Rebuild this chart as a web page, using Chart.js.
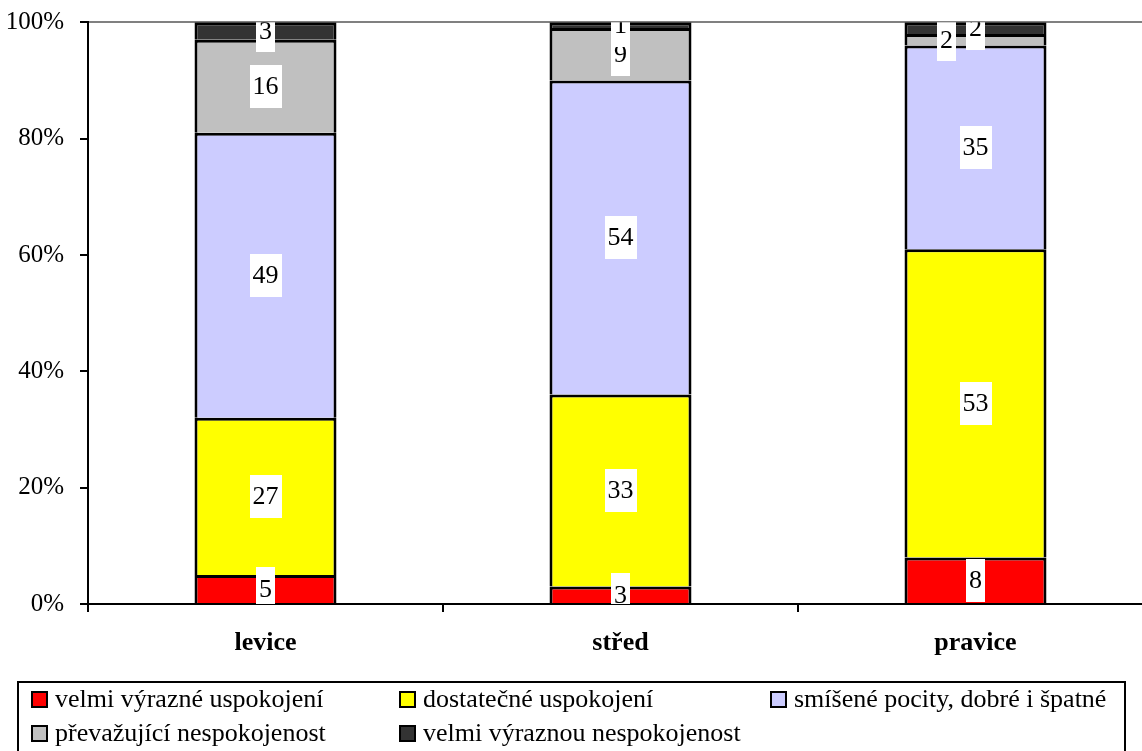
<!DOCTYPE html>
<html>
<head>
<meta charset="utf-8">
<script src="https://cdn.jsdelivr.net/npm/chart.js@4/dist/chart.umd.min.js"></script>
<style>
  html, body { margin: 0; padding: 0; overflow: hidden; background: #fff; }
  #wrap { width: 1153px; height: 751px; }
</style>
</head>
<body>
<div id="wrap"><canvas id="myChart"></canvas></div>
<script>
const categories = ['levice', 'střed', 'pravice'];
const seriesNames = ['velmi výrazné uspokojení', 'dostatečné uspokojení', 'smíšené pocity, dobré i špatné',
                     'převažující nespokojenost', 'velmi výraznou nespokojenost'];
const veryPleased = [5, 3, 8];
const pleased = [27, 33, 53];
const mixed = [49, 54, 35];
const displeased = [16, 9, 2];
const veryDispleased = [3, 1, 2];
const yTicks = [0, 20, 40, 60, 80, 100];

const colors = ['#FF0000', '#FFFF00', '#CCCCFF', '#C0C0C0', '#333333'];
const serif = '"Liberation Serif", "Times New Roman", serif';

// labels drawn in white boxes, like the original
const valueLabels = {
    id: 'valueLabels',
    afterDatasetsDraw(chart) {
        const c = chart.ctx;
        const area = chart.chartArea;
        c.save();
        c.beginPath();
        c.rect(area.left, area.top, area.right - area.left, area.bottom - area.top);
        c.clip();
        c.font = '26px ' + serif;
        c.textAlign = 'center';
        c.textBaseline = 'middle';
        chart.data.datasets.forEach((ds, i) => {
            chart.getDatasetMeta(i).data.forEach((bar, j) => {
                let x = bar.x;
                // the small grey "2" in pravice is nudged left in the original
                if (i === 3 && j === 2) x -= 29;
                const y = (bar.y + bar.base) / 2;
                const txt = String(ds.data[j]);
                const w = c.measureText(txt).width + 6;
                c.fillStyle = '#fff';
                c.fillRect(Math.round(x - w / 2), Math.round(y - 21.5), Math.round(w), 43);
                c.fillStyle = '#000';
                c.fillText(txt, x, y + 1);
            });
        });
        c.restore();
    }
};

const boxLegend = {
    id: 'boxLegend',
    afterDraw(chart) {
        const c = chart.ctx;
        c.save();
        c.strokeStyle = '#000';
        c.lineWidth = 2;
        c.strokeRect(18, 682, 1107, 120);
        const cols = [31, 399, 770];
        const rows = [691, 725];
        c.font = '26px ' + serif;
        c.textBaseline = 'middle';
        c.textAlign = 'left';
        seriesNames.forEach((name, i) => {
            const x = cols[i % 3];
            const y = rows[Math.floor(i / 3)];
            c.fillStyle = colors[i];
            c.fillRect(x, y, 17, 17);
            c.lineWidth = 2;
            c.strokeRect(x + 1, y + 1, 15, 15);
            c.fillStyle = '#000';
            c.fillText(name, x + 24, y + 9);
        });
        c.restore();
    }
};

const ctx = document.getElementById('myChart').getContext('2d');
const myChart = new Chart(ctx, {
    type: 'bar',
    data: {
        labels: categories,
        datasets: [veryPleased, pleased, mixed, displeased, veryDispleased].map((d, i) => ({
            label: seriesNames[i],
            data: d,
            backgroundColor: colors[i],
            borderColor: '#000',
            borderWidth: 3,
            barPercentage: 0.4,
            categoryPercentage: 1
        }))
    },
    options: {
        responsive: true,
        maintainAspectRatio: false,
        animation: false,
        layout: { padding: { top: 6, right: 0, left: 0, bottom: 0 } },
        plugins: { legend: { display: false }, tooltip: { enabled: false } },
        scales: {
            x: {
                stacked: true,
                afterFit: s => { s.height = 147; },
                border: { color: '#000', width: 2 },
                grid: { offset: true, drawOnChartArea: false, tickColor: '#000', tickLength: 8, lineWidth: 2 },
                ticks: { color: '#000', padding: 16, font: { family: serif, size: 26, weight: 'bold' } }
            },
            y: {
                stacked: true,
                min: 0,
                max: 100,
                afterFit: s => { s.width = 88; },
                afterBuildTicks: s => { s.ticks = yTicks.map(v => ({ value: v })); },
                border: { color: '#000', width: 2 },
                grid: {
                    color: c => c.tick && c.tick.value === 100 ? '#808080' : 'rgba(0,0,0,0)',
                    tickColor: '#000',
                    tickLength: 8,
                    lineWidth: 2
                },
                ticks: {
                    color: '#000',
                    padding: 16,
                    font: { family: serif, size: 25, lineHeight: 0.5 },
                    callback: v => v + '%'
                }
            }
        }
    },
    plugins: [valueLabels, boxLegend]
});
</script>
</body>
</html>
